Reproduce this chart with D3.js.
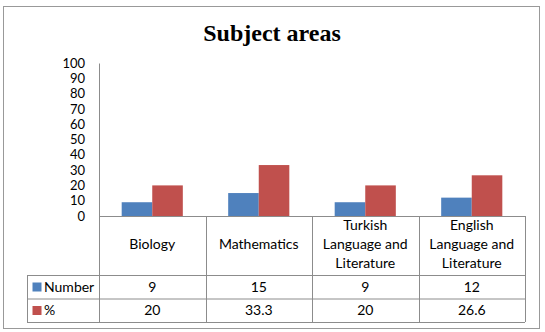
<!DOCTYPE html>
<html>
<head>
<meta charset="utf-8">
<script src="https://cdn.jsdelivr.net/npm/d3@7"></script>
<style>
  body { margin: 0; background: #fff; }
  text { font-family: Lato, "Open Sans", sans-serif; }
</style>
</head>
<body>
<div id="chart"></div>
<script>
// chart data
var categories = [
  ["Biology"],
  ["Mathematics"],
  ["Turkish", "Language and", "Literature"],
  ["English", "Language and", "Literature"]
];
var seriesNames = ["Number", "%"];
var numberValues = [9, 15, 9, 12];
var percentValues = [20, 33.3, 20, 26.6];
var percentLabels = ["20", "33.3", "20", "26.6"];
var yTicks = [0, 10, 20, 30, 40, 50, 60, 70, 80, 90, 100];

var width = 545, height = 332;
var colors = ["#4F81BD", "#C0504D"];
var lineColor = "#8c8c8c";

var svg = d3.select("#chart").append("svg")
  .attr("width", width)
  .attr("height", height);

// outer frame
svg.append("rect")
  .attr("x", 3.5).attr("y", 6.5)
  .attr("width", 536).attr("height", 322)
  .attr("fill", "#fff")
  .attr("stroke", "#999")
  .attr("stroke-width", 1);

svg.append("text")
  .attr("x", 272).attr("y", 41)
  .attr("text-anchor", "middle")
  .style("font-family", "'Liberation Serif', 'Times New Roman', serif")
  .style("font-weight", "bold")
  .style("font-size", "24px")
  .text("Subject areas");

var plotLeft = 99, plotRight = 525, plotTop = 63, plotBottom = 216;

var x = d3.scaleBand()
  .domain(d3.range(categories.length))
  .range([plotLeft, plotRight]);

var y = d3.scaleLinear()
  .domain([0, 100])
  .range([plotBottom, plotTop]);

var barW = x.bandwidth() * 0.287;

// y axis
var yAxis = svg.append("g")
  .attr("transform", "translate(" + plotLeft + ",0)")
  .call(d3.axisLeft(y).tickValues(yTicks).tickSize(0).tickPadding(14));
yAxis.select(".domain").attr("stroke", lineColor);
yAxis.selectAll("text")
  .style("font-family", "Lato, 'Open Sans', sans-serif")
  .style("font-size", "13px")
  .attr("fill", "#000");

// bars
var series = [numberValues, percentValues];
series.forEach(function (vals, s) {
  svg.selectAll(".bar" + s)
    .data(vals)
    .enter()
    .append("rect")
    .attr("class", "bar" + s)
    .attr("x", function (d, i) { return x(i) + x.bandwidth() / 2 - barW + s * barW; })
    .attr("y", function (d) { return y(d); })
    .attr("width", barW)
    .attr("height", function (d) { return y(0) - y(d); })
    .attr("fill", colors[s]);
});

// data table
var rowTop = 275, rowH = 23.5, tableLeft = 27;
var table = svg.append("g")
  .attr("stroke", lineColor)
  .attr("stroke-width", 1)
  .attr("fill", "none");

// horizontal lines
table.append("line")
  .attr("x1", plotLeft).attr("x2", plotRight)
  .attr("y1", plotBottom + 0.5).attr("y2", plotBottom + 0.5);
[0, 1, 2].forEach(function (r) {
  table.append("line")
    .attr("x1", tableLeft).attr("x2", plotRight)
    .attr("y1", rowTop + r * rowH + 0.5).attr("y2", rowTop + r * rowH + 0.5);
});
// vertical lines
table.append("line")
  .attr("x1", tableLeft + 0.5).attr("x2", tableLeft + 0.5)
  .attr("y1", rowTop).attr("y2", rowTop + 2 * rowH);
d3.range(categories.length + 1).forEach(function (i) {
  var xx = i < categories.length ? x(i) : plotRight;
  table.append("line")
    .attr("x1", Math.round(xx) + 0.5).attr("x2", Math.round(xx) + 0.5)
    .attr("y1", plotBottom).attr("y2", rowTop + 2 * rowH);
});

// category labels
categories.forEach(function (lines, i) {
  var cx = x(i) + x.bandwidth() / 2;
  var lh = 19;
  var startY = 249 - (lines.length - 1) * lh / 2;
  var t = svg.append("text")
    .attr("text-anchor", "middle")
    .style("font-size", "14px")
    .attr("fill", "#000");
  lines.forEach(function (l, k) {
    t.append("tspan").attr("x", cx).attr("y", startY + k * lh).text(l);
  });
});

// row headers with legend keys
var rowLabels = [numberValues.map(String), percentLabels];
seriesNames.forEach(function (name, s) {
  var ry = rowTop + s * rowH;
  svg.append("rect")
    .attr("x", 32.5).attr("y", ry + 7.5)
    .attr("width", 9).attr("height", 9)
    .attr("fill", colors[s]);
  svg.append("text")
    .attr("x", 44).attr("y", ry + 16.5)
    .style("font-size", "14px")
    .attr("fill", "#000")
    .text(name);
  svg.selectAll(".cell" + s)
    .data(rowLabels[s])
    .enter()
    .append("text")
    .attr("x", function (d, i) { return x(i) + x.bandwidth() / 2; })
    .attr("y", ry + 16.5)
    .attr("text-anchor", "middle")
    .style("font-size", "14px")
    .attr("fill", "#000")
    .text(function (d) { return d; });
});
</script>
</body>
</html>
